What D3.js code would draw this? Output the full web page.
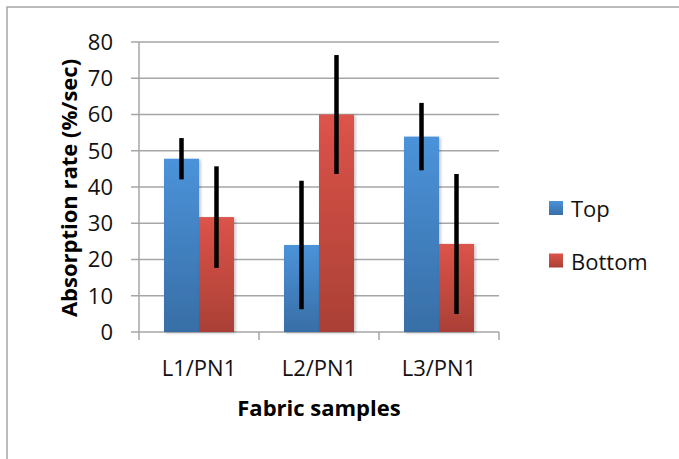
<!DOCTYPE html>
<html>
<head>
<meta charset="utf-8">
<script src="https://cdn.jsdelivr.net/npm/d3@7"></script>
<style>
  html, body { margin: 0; padding: 0; background: #fff; }
  svg { display: block; font-family: "Open Sans", sans-serif; }
</style>
</head>
<body>
<svg id="chart" width="679" height="459"></svg>
<script>
// Absorption rate per fabric sample, top and bottom faces, with error bars
const categories = ["L1/PN1", "L2/PN1", "L3/PN1"];
const seriesNames = ["Top", "Bottom"];
const topValues = [47.8, 24.0, 53.9];
const topErrors = [5.7, 17.7, 9.3];
const bottomValues = [31.7, 60.0, 24.3];
const bottomErrors = [14.0, 16.4, 19.3];
const yTicks = [0, 10, 20, 30, 40, 50, 60, 70, 80];
const xTitle = "Fabric samples";
const yTitle = "Absorption rate (%/sec)";

const values = [topValues, bottomValues];
const errors = [topErrors, bottomErrors];

const svg = d3.select("#chart");
const W = 679, H = 459;
const plot = { left: 139, right: 499, top: 42, bottom: 332 };
const gridColor = "#a6a6a6";

// outer frame of the chart area
svg.append("rect")
  .attr("x", 7).attr("y", 7)
  .attr("width", W + 20).attr("height", H + 20)
  .attr("fill", "#fff")
  .attr("stroke", gridColor).attr("stroke-width", 1.5);

const y = d3.scaleLinear().domain([0, 80]).range([plot.bottom, plot.top]);
const x = d3.scaleBand().domain(categories).range([plot.left, plot.right]).padding(0);
const x1 = d3.scaleBand().domain(seriesNames)
  .range([25, x.bandwidth() - 25]).padding(0);

// bar gradients
const defs = svg.append("defs");
const grads = [
  { id: "gTop", top: "#4b93da", bottom: "#386ea6" },
  { id: "gBottom", top: "#dd5349", bottom: "#aa4036" }
];
grads.forEach(g => {
  const lg = defs.append("linearGradient").attr("id", g.id)
    .attr("x1", 0).attr("y1", 0).attr("x2", 0).attr("y2", 1);
  lg.append("stop").attr("offset", "0%").attr("stop-color", g.top);
  lg.append("stop").attr("offset", "100%").attr("stop-color", g.bottom);
});
const shadow = defs.append("filter").attr("id", "shadow")
  .attr("x", "-20%").attr("y", "-20%").attr("width", "150%").attr("height", "140%");
shadow.append("feDropShadow").attr("dx", 1.5).attr("dy", 1).attr("stdDeviation", 1.5)
  .attr("flood-color", "#000").attr("flood-opacity", 0.25);

// horizontal grid lines (with tick stubs left of the axis)
svg.append("g").selectAll("line").data(yTicks).join("line")
  .attr("x1", plot.left - 8).attr("x2", plot.right)
  .attr("y1", d => y(d)).attr("y2", d => y(d))
  .attr("stroke", gridColor).attr("stroke-width", 1.5);

// y axis line
svg.append("line")
  .attr("x1", plot.left).attr("x2", plot.left)
  .attr("y1", y(80)).attr("y2", y(0))
  .attr("stroke", gridColor).attr("stroke-width", 1.5);

// x axis ticks at category boundaries
const boundaries = categories.map(c => x(c)).concat([x(categories[categories.length - 1]) + x.bandwidth()]);
svg.append("g").selectAll("line").data(boundaries).join("line")
  .attr("x1", d => d).attr("x2", d => d)
  .attr("y1", y(0)).attr("y2", y(0) + 8)
  .attr("stroke", gridColor).attr("stroke-width", 1.5);

// y tick labels
svg.append("g").selectAll("text").data(yTicks).join("text")
  .attr("x", 113).attr("y", d => y(d) + 2)
  .attr("text-anchor", "end").attr("dominant-baseline", "middle")
  .attr("font-size", 22).attr("fill", "#111")
  .text(d => d);

// bars
const groups = svg.append("g").selectAll("g").data(categories).join("g")
  .attr("transform", c => `translate(${x(c)},0)`);

seriesNames.forEach((s, si) => {
  groups.append("rect")
    .attr("x", x1(s))
    .attr("width", x1.bandwidth())
    .attr("y", (c, i) => y(values[si][i]))
    .attr("height", (c, i) => y(0) - y(values[si][i]))
    .attr("fill", `url(#${grads[si].id})`)
    .attr("filter", "url(#shadow)");
});

// error bars
seriesNames.forEach((s, si) => {
  groups.append("line")
    .attr("x1", x1(s) + x1.bandwidth() / 2)
    .attr("x2", x1(s) + x1.bandwidth() / 2)
    .attr("y1", (c, i) => y(values[si][i] + errors[si][i]))
    .attr("y2", (c, i) => y(values[si][i] - errors[si][i]))
    .attr("stroke", "#000").attr("stroke-width", 4.5);
});

// category labels
svg.append("g").selectAll("text").data(categories).join("text")
  .attr("x", c => x(c) + x.bandwidth() / 2).attr("y", 376)
  .attr("text-anchor", "middle").attr("font-size", 22).attr("fill", "#111")
  .text(c => c);

// axis titles
svg.append("text")
  .attr("x", (plot.left + plot.right) / 2).attr("y", 416)
  .attr("text-anchor", "middle").attr("font-size", 22).attr("font-weight", "bold")
  .attr("fill", "#000")
  .text(xTitle);

svg.append("text")
  .attr("transform", "translate(77,188) rotate(-90)")
  .attr("text-anchor", "middle").attr("font-size", 22).attr("font-weight", "bold")
  .attr("fill", "#000")
  .text(yTitle);

// legend
const legend = svg.append("g").selectAll("g").data(seriesNames).join("g")
  .attr("transform", (s, i) => `translate(549,${201 + i * 52.5})`);
legend.append("rect")
  .attr("width", 14).attr("height", 14)
  .attr("fill", (s, i) => `url(#${grads[i].id})`);
legend.append("text")
  .attr("x", 22).attr("y", 16)
  .attr("font-size", 22).attr("fill", "#111")
  .text(s => s);
</script>
</body>
</html>
